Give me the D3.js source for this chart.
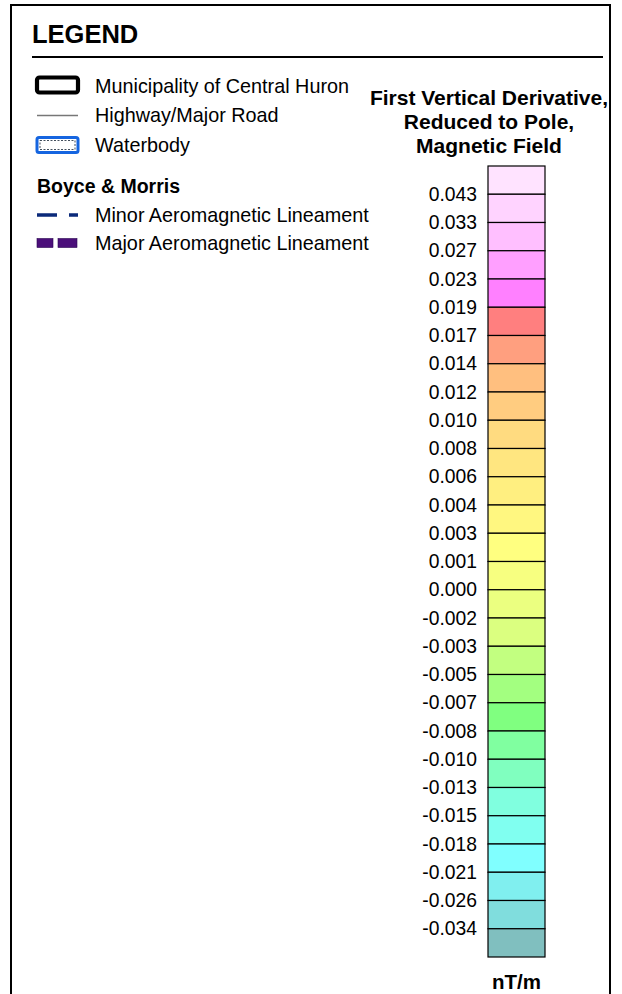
<!DOCTYPE html>
<html><head><meta charset="utf-8">
<script src="https://cdn.jsdelivr.net/npm/d3@7"></script>
<style>body{margin:0;background:#fff;} svg{display:block;font-family:"Liberation Sans",Arial,sans-serif;}</style>
</head><body>
<script>
const legendItems = ["Municipality of Central Huron", "Highway/Major Road", "Waterbody"];
const lineamentItems = ["Minor Aeromagnetic Lineament", "Major Aeromagnetic Lineament"];
const titleLines = ["First Vertical Derivative,", "Reduced to Pole,", "Magnetic Field"];
const tickLabels = ["0.043","0.033","0.027","0.023","0.019","0.017","0.014","0.012","0.010","0.008","0.006","0.004","0.003","0.001","0.000","-0.002","-0.003","-0.005","-0.007","-0.008","-0.010","-0.013","-0.015","-0.018","-0.021","-0.026","-0.034"];
const classColors = ["#FFE3FF","#FFD3FF","#FFBFFF","#FF9FFF","#FF80FF","#FF7F7F","#FF9F7F","#FFBF7F","#FFCC80","#FFDB80","#FFE680","#FFEF80","#FFF780","#FFFF80","#F7FF80","#EBFF80","#DBFF80","#C2FF80","#A3FF80","#80FF80","#80FFA0","#80FFBF","#80FFDF","#80FFF0","#80FFFF","#80EFEF","#80DDDD","#80BFBF"];
const unitLabel = "nT/m";

const W = 622, H = 994;
const svg = d3.select("body").append("svg").attr("width", W).attr("height", H);

// frame
svg.append("rect").attr("x", 11).attr("y", 5).attr("width", 599).attr("height", H + 10)
  .attr("fill", "none").attr("stroke", "#000").attr("stroke-width", 2);

svg.append("text").attr("x", 32).attr("y", 43).attr("font-size", 25.5).attr("font-weight", "bold").text("LEGEND");
svg.append("line").attr("x1", 32).attr("x2", 603).attr("y1", 57).attr("y2", 57).attr("stroke", "#000").attr("stroke-width", 2.2);

// top legend items
const itemY = d3.scalePoint().domain(legendItems).range([86, 145]);
legendItems.forEach(t => {
  svg.append("text").attr("x", 95).attr("y", itemY(t)).attr("dy", "0.35em").attr("font-size", 19.8).text(t);
});
// municipality symbol
svg.append("rect").attr("x", 37).attr("y", 77.5).attr("width", 41).attr("height", 15).attr("rx", 2.5)
  .attr("fill", "#fff").attr("stroke", "#000").attr("stroke-width", 4.2);
// road
svg.append("line").attr("x1", 37).attr("x2", 78).attr("y1", itemY(legendItems[1])).attr("y2", itemY(legendItems[1]))
  .attr("stroke", "#777").attr("stroke-width", 1.5);
// waterbody
svg.append("rect").attr("x", 37).attr("y", 137.5).attr("width", 41).attr("height", 15).attr("rx", 2)
  .attr("fill", "#fff").attr("stroke", "#1565e0").attr("stroke-width", 3);
svg.append("rect").attr("x", 40).attr("y", 140.5).attr("width", 35).attr("height", 9)
  .attr("fill", "none").attr("stroke", "#123").attr("stroke-width", 0.8).attr("stroke-dasharray", "2,1.5");

svg.append("text").attr("x", 37).attr("y", 186).attr("dy", "0.35em").attr("font-size", 19.5).attr("font-weight", "bold").text("Boyce & Morris");
const linY = d3.scalePoint().domain(lineamentItems).range([215, 243]);
lineamentItems.forEach(t => {
  svg.append("text").attr("x", 95).attr("y", linY(t)).attr("dy", "0.35em").attr("font-size", 19.8).text(t);
});
svg.append("line").attr("x1", 37).attr("x2", 78).attr("y1", linY(lineamentItems[0])).attr("y2", linY(lineamentItems[0]))
  .attr("stroke", "#0b2a7a").attr("stroke-width", 3.5).attr("stroke-dasharray", "20,12,9,100");
[[37,16],[58,19]].forEach(([x,w]) => {
  svg.append("rect").attr("x", x).attr("y", linY(lineamentItems[1]) - 4.5).attr("width", w).attr("height", 9)
    .attr("fill", "#4b0f7a").attr("stroke", "#2a0650").attr("stroke-width", 0.6);
});

// title
const titleY = d3.scalePoint().domain(titleLines).range([98, 146]);
titleLines.forEach(t => {
  svg.append("text").attr("x", 489).attr("y", titleY(t)).attr("dy", "0.35em").attr("text-anchor", "middle")
    .attr("font-size", 21).attr("font-weight", "bold").text(t);
});

// color bar
const barX = 488, barW = 57;
const y = d3.scaleLinear().domain([0, classColors.length]).range([166, 957]);
svg.append("g").selectAll("rect").data(classColors).join("rect")
  .attr("x", barX).attr("width", barW)
  .attr("y", (d, i) => y(i)).attr("height", (d, i) => y(i + 1) - y(i))
  .attr("fill", d => d).attr("stroke", "#000").attr("stroke-width", 1.2);

const axis = d3.axisLeft(d3.scaleLinear().domain([1, tickLabels.length]).range([y(1), y(tickLabels.length)]))
  .tickValues(d3.range(1, tickLabels.length + 1)).tickFormat(i => tickLabels[i - 1]).tickSize(0).tickPadding(11);
const ag = svg.append("g").attr("transform", `translate(${barX},0)`).call(axis);
ag.select(".domain").remove();
ag.selectAll("text").attr("font-size", 19.3).attr("font-family", "Liberation Sans, Arial, sans-serif").attr("fill", "#000");

svg.append("text").attr("x", barX + barW / 2).attr("y", 982).attr("dy", "0.35em").attr("text-anchor", "middle")
  .attr("font-size", 20.5).attr("font-weight", "bold").text(unitLabel);
</script>
</body></html>
